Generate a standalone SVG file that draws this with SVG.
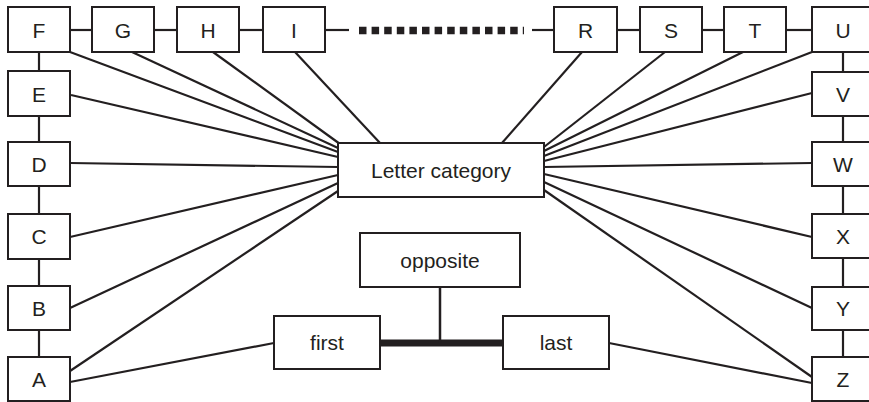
<svg xmlns="http://www.w3.org/2000/svg" width="869" height="402" viewBox="0 0 869 402">
<style>
.b rect{fill:#fff;stroke:#231f20;stroke-width:2}
.b text{font-family:"Liberation Sans",Arial,sans-serif;font-size:21px;fill:#231f20;text-anchor:middle}
.c line{stroke:#231f20;stroke-width:2.2;fill:none}
</style>
<rect width="869" height="402" fill="#fff"/>
<g class="c" id="connectors">
<line x1="70" y1="30" x2="92" y2="30"/>
<line x1="154" y1="30" x2="177" y2="30"/>
<line x1="239" y1="30" x2="263" y2="30"/>
<line x1="325" y1="30" x2="349" y2="30"/>
<line x1="359" y1="30.5" x2="524" y2="30.5" style="stroke-width:7.5;stroke-dasharray:7.5 5.1"/>
<line x1="532" y1="30" x2="554" y2="30"/>
<line x1="617" y1="30" x2="640" y2="30"/>
<line x1="702" y1="30" x2="724" y2="30"/>
<line x1="786" y1="30" x2="812" y2="30"/>
<line x1="39" y1="52" x2="39" y2="71"/>
<line x1="39" y1="116" x2="39" y2="142"/>
<line x1="39" y1="186" x2="39" y2="214"/>
<line x1="39" y1="259" x2="39" y2="286"/>
<line x1="39" y1="330" x2="39" y2="357"/>
<line x1="843" y1="52" x2="843" y2="72"/>
<line x1="843" y1="116" x2="843" y2="142"/>
<line x1="843" y1="186" x2="843" y2="214"/>
<line x1="843" y1="258" x2="843" y2="287"/>
<line x1="843" y1="330" x2="843" y2="357"/>
<line x1="70" y1="52" x2="338" y2="152"/>
<line x1="132" y1="52" x2="338" y2="148"/>
<line x1="213" y1="52" x2="340" y2="144"/>
<line x1="295" y1="52" x2="380" y2="143"/>
<line x1="71" y1="95" x2="338" y2="157"/>
<line x1="70" y1="163" x2="338" y2="167"/>
<line x1="70" y1="237" x2="338" y2="175"/>
<line x1="70" y1="308" x2="338" y2="183"/>
<line x1="70" y1="371" x2="338" y2="191"/>
<line x1="70" y1="382" x2="274" y2="343"/>
<line x1="582" y1="52" x2="502" y2="143"/>
<line x1="665" y1="52" x2="544" y2="147"/>
<line x1="743" y1="52" x2="544" y2="151"/>
<line x1="812" y1="52" x2="544" y2="156"/>
<line x1="812" y1="93" x2="544" y2="161"/>
<line x1="812" y1="163" x2="544" y2="167"/>
<line x1="812" y1="237" x2="544" y2="174"/>
<line x1="812" y1="308" x2="544" y2="182"/>
<line x1="812" y1="377" x2="544" y2="190"/>
<line x1="609" y1="343" x2="812" y2="383"/>
<line x1="380" y1="343" x2="503" y2="343" style="stroke-width:7"/>
<line x1="440" y1="287" x2="440" y2="343" style="stroke-width:2.5"/>
</g>
<g class="b" id="F"><rect x="8" y="7" width="62" height="45"/><text x="39" y="37.5">F</text></g>
<g class="b" id="G"><rect x="92" y="7" width="62" height="45"/><text x="123" y="37.5">G</text></g>
<g class="b" id="H"><rect x="177" y="7" width="62" height="45"/><text x="208" y="37.5">H</text></g>
<g class="b" id="I"><rect x="263" y="7" width="62" height="45"/><text x="294" y="37.5">I</text></g>
<g class="b" id="R"><rect x="554" y="7" width="63" height="45"/><text x="585.5" y="37.5">R</text></g>
<g class="b" id="S"><rect x="640" y="7" width="62" height="45"/><text x="671" y="37.5">S</text></g>
<g class="b" id="T"><rect x="724" y="7" width="62" height="45"/><text x="755" y="37.5">T</text></g>
<g class="b" id="U"><rect x="812" y="7" width="62" height="45"/><text x="843" y="37.5">U</text></g>
<g class="b" id="E"><rect x="8" y="71" width="62" height="45"/><text x="39" y="101.5">E</text></g>
<g class="b" id="D"><rect x="8" y="142" width="62" height="44"/><text x="39" y="171.5">D</text></g>
<g class="b" id="C"><rect x="8" y="214" width="62" height="45"/><text x="39" y="244">C</text></g>
<g class="b" id="B"><rect x="8" y="286" width="62" height="44"/><text x="39" y="315.5">B</text></g>
<g class="b" id="A"><rect x="8" y="357" width="62" height="44"/><text x="39" y="386.5">A</text></g>
<g class="b" id="V"><rect x="812" y="72" width="62" height="44"/><text x="843" y="101.5">V</text></g>
<g class="b" id="W"><rect x="812" y="142" width="62" height="44"/><text x="843" y="171.5">W</text></g>
<g class="b" id="X"><rect x="812" y="214" width="62" height="44"/><text x="843" y="243.5">X</text></g>
<g class="b" id="Y"><rect x="812" y="287" width="62" height="43"/><text x="843" y="315.5">Y</text></g>
<g class="b" id="Z"><rect x="812" y="357" width="62" height="44"/><text x="843" y="386.5">Z</text></g>
<g class="b" id="letter-category"><rect x="338" y="143" width="206" height="54"/><text x="441" y="177.5">Letter category</text></g>
<g class="b" id="opposite"><rect x="360" y="233" width="160" height="54"/><text x="440" y="267.5">opposite</text></g>
<g class="b" id="first"><rect x="274" y="316" width="106" height="53"/><text x="327" y="350">first</text></g>
<g class="b" id="last"><rect x="503" y="316" width="106" height="53"/><text x="556" y="350">last</text></g>
</svg>
